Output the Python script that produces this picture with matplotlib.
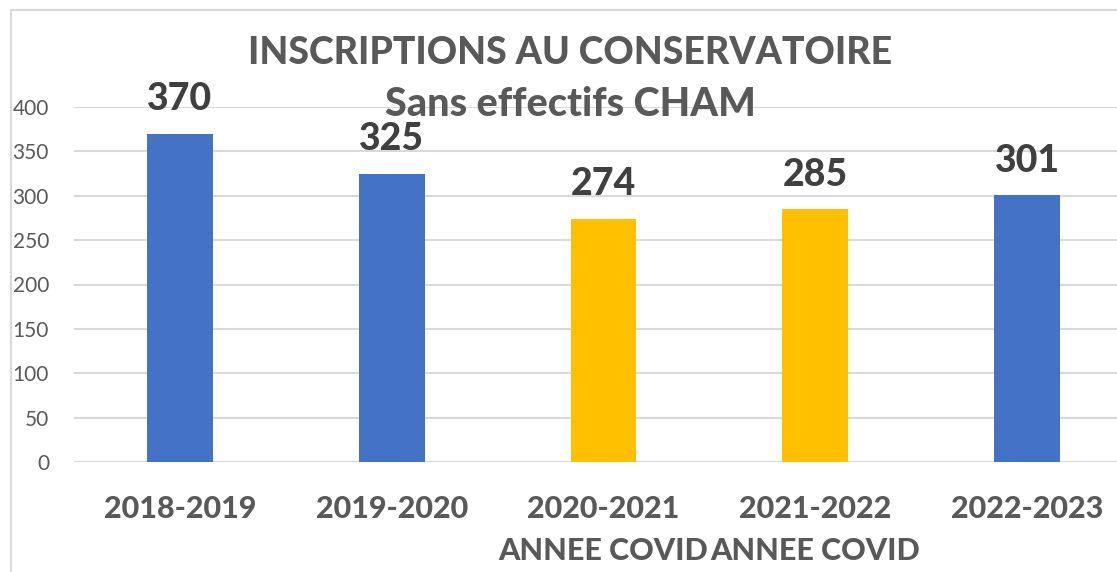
import matplotlib.pyplot as plt
from matplotlib.patches import Rectangle

# data
years = ['2018-2019', '2019-2020', '2020-2021', '2021-2022', '2022-2023']
notes = ['', '', 'ANNEE COVID', 'ANNEE COVID', '']
inscrits = [370, 325, 274, 285, 301]
covid = [False, False, True, True, False]

blue = '#4472C4'
gold = '#FFC000'
grey = '#595959'
heavy = 900

plt.rcParams['font.family'] = ['Lato', 'DejaVu Sans']

W, H = 1117, 572
fig = plt.figure(figsize=(W / 100, H / 100), dpi=100)

# chart border (right/bottom edges fall outside the picture)
fig.patches.append(Rectangle((11 / W, -0.1), 1.2, (572 - 10) / H + 0.1,
                             transform=fig.transFigure, fill=False,
                             edgecolor='#D9D9D9', lw=1.5))

ax = fig.add_axes([74 / W, 110 / H, 1059 / W, 355 / H])
x = range(len(years))
colors = [gold if c else blue for c in covid]
ax.bar(x, inscrits, width=0.31, color=colors, zorder=3)

for xi, v in zip(x, inscrits):
    ax.annotate(str(v), (xi, v), xytext=(0, 12.5), textcoords='offset points',
                ha='center', va='bottom', fontsize=27, fontweight=heavy,
                color='#404040')

ax.set_xlim(-0.5, 4.5)
ax.set_ylim(0, 400)
ax.set_yticks(range(0, 401, 50))
ax.yaxis.grid(True, color='#D9D9D9', lw=1.5, zorder=0)
ax.set_axisbelow(True)
for s in ax.spines.values():
    s.set_visible(False)
ax.tick_params(length=0)
ax.tick_params(axis='y', labelsize=15, labelcolor=grey, pad=18)
ax.set_xticks(list(x))
ax.set_xticklabels([y + ('\n' + n if n else '') for y, n in zip(years, notes)],
                   fontsize=22, fontweight=heavy, color=grey,
                   va='top', linespacing=1.6)
ax.tick_params(axis='x', pad=24)

fig.text(570 / W, 1 - 53 / H, 'INSCRIPTIONS AU CONSERVATOIRE', ha='center',
         va='center', fontsize=27, fontweight=heavy, color=grey)
fig.text(570 / W, 1 - 105 / H, 'Sans effectifs CHAM', ha='center',
         va='center', fontsize=28.5, fontweight=heavy, color=grey)

fig.savefig('out.png', dpi=100)
